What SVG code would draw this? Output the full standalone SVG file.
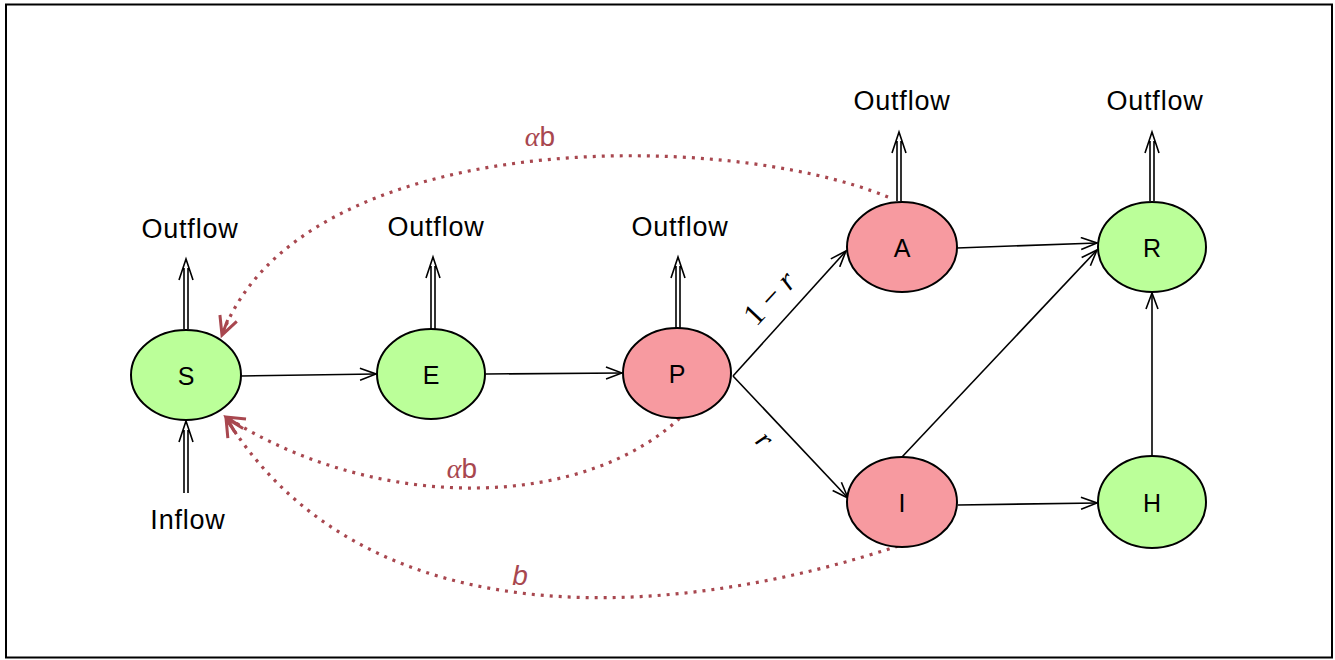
<svg xmlns="http://www.w3.org/2000/svg" width="1335" height="660" viewBox="0 0 1335 660">
<style>
.node{stroke:#000;stroke-width:2}
.g{fill:#bbff99}
.r{fill:#f79aa0}
.lbl{font-family:"Liberation Sans",Arial,sans-serif;font-size:27px;letter-spacing:0.8px;fill:#000;text-anchor:middle}
.nl{font-family:"Liberation Sans",Arial,sans-serif;font-size:25px;fill:#000;text-anchor:middle;dominant-baseline:central}
.edge{stroke:#000;stroke-width:1.6;fill:none}
.dbl{stroke:#000;stroke-width:1.6;fill:none}
.dot{stroke:#a8474f;stroke-width:3.2;fill:none;stroke-dasharray:3 6}
.rt{font-size:28px;fill:#a8474f;text-anchor:middle}
.math{font-family:"Liberation Serif","DejaVu Serif",serif;font-style:italic}
.sans{font-family:"Liberation Sans",Arial,sans-serif}
</style>
<defs>
<marker id="ah" markerWidth="20" markerHeight="14" refX="18" refY="7" orient="auto" markerUnits="userSpaceOnUse">
<path d="M2,1 L18,7 L2,13" fill="none" stroke="#000" stroke-width="1.6"/>
</marker>
<marker id="rah" markerWidth="26" markerHeight="22" refX="21" refY="11" orient="auto" markerUnits="userSpaceOnUse">
<path d="M3,2 L21,11 L3,20 M21,11 L5,11" fill="none" stroke="#a8474f" stroke-width="3"/>
</marker>
</defs>
<rect x="6" y="4.5" width="1326" height="653" fill="#fff" stroke="#000" stroke-width="2"/>

<g id="connectors">
<path class="edge" d="M241,376 L376,374" marker-end="url(#ah)"/>
<path class="edge" d="M486,374 L622,373" marker-end="url(#ah)"/>
<path class="edge" d="M733,376 L846,251" marker-end="url(#ah)"/>
<path class="edge" d="M733,376 L848,498" marker-end="url(#ah)"/>
<path class="edge" d="M957,248 L1097,243" marker-end="url(#ah)"/>
<path class="edge" d="M902,457 L1097,250" marker-end="url(#ah)"/>
<path class="edge" d="M958,505 L1097,503" marker-end="url(#ah)"/>
<path class="edge" d="M1152,456 L1152,293" marker-end="url(#ah)"/>

<g id="outflows">
<path class="dbl" d="M184,329 V268 M188,329 V268 M179,280 L186,259 L193,280"/>
<path class="dbl" d="M431,329 V266 M435,329 V266 M426,278 L433,257 L440,278"/>
<path class="dbl" d="M676,329 V266 M680,329 V266 M671,278 L678,257 L685,278"/>
<path class="dbl" d="M897,201 V141 M901,201 V141 M892,153 L899,132 L906,153"/>
<path class="dbl" d="M1150,201 V141 M1154,201 V141 M1145,153 L1152,132 L1159,153"/>
<path class="dbl" d="M184,493 V430 M188,493 V430 M179,442 L186,421 L193,442"/>
</g>

<path class="dot" d="M888,197 C720,128 300,128 222,335" marker-end="url(#rah)"/>
<path class="dot" d="M686,412 C590,510 380,515 226,417" marker-end="url(#rah)"/>
<path class="dot" d="M898,546 C690,615 370,650 226,418" marker-end="url(#rah)"/>

<text class="rt" x="540" y="146"><tspan class="math">α</tspan><tspan class="sans">b</tspan></text>
<text class="rt" x="462" y="478"><tspan class="math">α</tspan><tspan class="sans">b</tspan></text>
<text class="rt sans" font-style="italic" x="520" y="585">b</text>

<text font-family="Liberation Serif, DejaVu Serif, serif" font-size="31" text-anchor="middle" transform="translate(777,305) rotate(-47)"><tspan>1</tspan><tspan dx="8">−</tspan><tspan dx="8" font-style="italic">r</tspan></text>
<text class="math" font-size="29" text-anchor="middle" transform="translate(758,446) rotate(45)">r</text>
</g>

<g id="S"><ellipse class="node g" cx="186" cy="375" rx="55" ry="45"/><text class="nl" x="186" y="376">S</text></g>
<g id="E"><ellipse class="node g" cx="431" cy="374" rx="54" ry="45"/><text class="nl" x="431" y="375">E</text></g>
<g id="P"><ellipse class="node r" cx="677" cy="373" rx="54" ry="45"/><text class="nl" x="677" y="374">P</text></g>
<g id="A"><ellipse class="node r" cx="902" cy="247" rx="55" ry="45"/><text class="nl" x="902" y="248">A</text></g>
<g id="R"><ellipse class="node g" cx="1152" cy="247" rx="54" ry="45"/><text class="nl" x="1152" y="248">R</text></g>
<g id="I"><ellipse class="node r" cx="902" cy="502" rx="55" ry="45"/><text class="nl" x="902" y="503">I</text></g>
<g id="H"><ellipse class="node g" cx="1152" cy="502" rx="54" ry="46"/><text class="nl" x="1152" y="503">H</text></g>

<g id="labels">
<text class="lbl" x="190" y="238">Outflow</text>
<text class="lbl" x="436" y="236">Outflow</text>
<text class="lbl" x="680" y="236">Outflow</text>
<text class="lbl" x="902" y="110">Outflow</text>
<text class="lbl" x="1155" y="110">Outflow</text>
<text class="lbl" x="188" y="529">Inflow</text>
</g>
</svg>
